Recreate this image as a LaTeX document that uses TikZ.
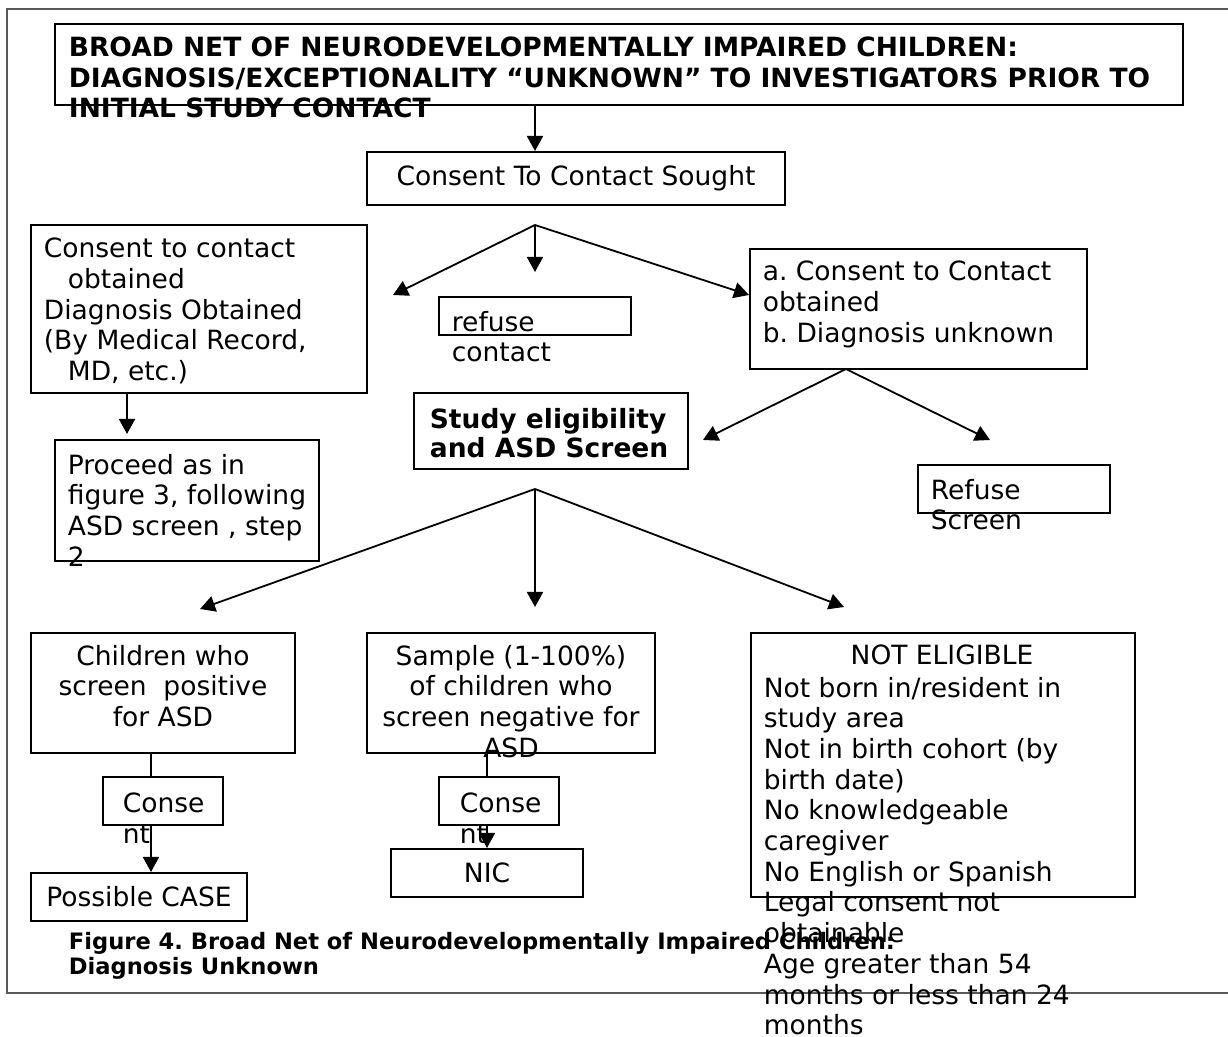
\documentclass[tikz,border=0pt]{standalone}
\usepackage{fontspec}
\setmainfont{DejaVu Sans}
\usepackage{tikz}
\usetikzlibrary{arrows.meta}
\frenchspacing
\tikzstyle{box} = [rectangle, draw, line width=1pt, inner sep=0pt]
\tikzstyle{txt} = [align=left, anchor=north west, inner sep=0pt]
\tikzstyle{ctxt} = [align=center, anchor=north, inner sep=0pt]
\tikzstyle{frame} = [-, draw=black!65, line width=1pt]

\begin{document}
\begin{tikzpicture}[->,>={Triangle[width=8pt,length=7.5pt]},x=0.5pt,y=-0.5pt,line width=0.9pt,
    font=\fontsize{13.25}{15.4}\selectfont]
  \useasboundingbox (0,0) rectangle (1228,1037);
  \draw[frame] (1228,9) -- (7,9) -- (7,993) -- (1228,993);

  % top of the chart
  \node[box, minimum width=564pt, minimum height=40.5pt] (Broad_Net) at (619,64.5) {};
  \node[txt, font=\fontsize{13.25}{15.3}\selectfont\bfseries] (Broad_Net_T) at (68,36)
    {BROAD NET OF NEURODEVELOPMENTALLY IMPAIRED CHILDREN:\\
     DIAGNOSIS/EXCEPTIONALITY “UNKNOWN” TO INVESTIGATORS PRIOR TO\\
     INITIAL STUDY CONTACT};
  \node[box, minimum width=209pt, minimum height=26.5pt] (Consent_Sought) at (576,178.5) {Consent To Contact Sought};

  % second row
  \node[box, minimum width=168pt, minimum height=84pt] (Dx_Known) at (199,309) {};
  \node[txt] (Dx_Known_T) at (43,237)
    {Consent to contact\\ \hspace*{12pt}obtained\\ Diagnosis Obtained\\ (By Medical Record,\\ \hspace*{12pt}MD, etc.)};
  \node[box, minimum width=96pt, minimum height=19pt] (Refuse_C) at (535,316) {};
  \node[txt] (Refuse_C_T) at (451,310) {refuse\\contact};
  \node[box, minimum width=168.5pt, minimum height=60pt] (Dx_Unknown) at (918.5,309) {};
  \node[txt] (Dx_Unknown_T) at (762,260)
    {a. Consent to Contact\\obtained\\b. Diagnosis unknown};

  % third row
  \node[box, minimum width=132pt, minimum height=60.5pt] (Proceed) at (187,500.5) {};
  \node[txt] (Proceed_T) at (67,453)
    {Proceed as in\\figure 3, following\\ASD screen , step\\2};
  \node[box, minimum width=137pt, minimum height=38pt] (Screen) at (551,431) {};
  \node[txt, font=\fontsize{13.25}{14.8}\selectfont\bfseries] (Screen_T) at (429,407)
    {Study eligibility\\and ASD Screen};
  \node[box, minimum width=96pt, minimum height=24pt] (Refuse_S) at (1014,489) {};
  \node[txt] (Refuse_S_T) at (930,478) {Refuse\\Screen};

  % bottom row
  \node[box, minimum width=132pt, minimum height=60pt] (Pos) at (163,693) {};
  \node[ctxt] (Pos_T) at (163,644) {Children who\\screen\ \ positive\\for ASD};
  \node[box, minimum width=144pt, minimum height=60pt] (Neg) at (511,693) {};
  \node[ctxt] (Neg_T) at (511,644) {Sample (1-100\%)\\of children who\\screen negative for\\ASD};
  \node[box, minimum width=192pt, minimum height=132pt] (Not_Elig) at (943,765) {};
  \node[ctxt] (Not_Elig_H) at (942,644) {NOT ELIGIBLE};
  \node[txt, font=\fontsize{13.25}{15.35}\selectfont] (Not_Elig_T) at (763,676)
    {Not born in/resident in\\study area\\Not in birth cohort (by\\birth date)\\No knowledgeable\\caregiver\\
     No English or Spanish\\Legal consent not\\obtainable\\Age greater than 54\\months or less than 24\\months};

  \node[box, minimum width=60pt, minimum height=24pt] (Cons_P) at (163,801) {};
  \node[txt] (Cons_P_T) at (122,792) {Conse\\nt};
  \node[box, minimum width=60pt, minimum height=24pt] (Cons_N) at (499,801) {};
  \node[txt] (Cons_N_T) at (459,792) {Conse\\nt};
  \node[box, minimum width=108pt, minimum height=24pt] (Case) at (139,897) {Possible CASE};
  \node[box, minimum width=96pt, minimum height=24pt] (NIC) at (487,873) {NIC};

  \node[txt, font=\fontsize{11.3}{12.6}\selectfont\bfseries] (Caption) at (68,931)
    {Figure 4. Broad Net of Neurodevelopmentally Impaired Children:\\Diagnosis Unknown};

  % forks and loose arrow ends
  \coordinate (Fork_A) at (535,225);
  \coordinate (Tip_A1) at (393,295);
  \coordinate (Tip_A2) at (535,272);
  \coordinate (Fork_B) at (846,369);
  \coordinate (Tip_B1) at (703,440);
  \coordinate (Tip_B2) at (990,440);
  \coordinate (Fork_C) at (535,489);
  \coordinate (Tip_C1) at (200,609);
  \coordinate (Tip_C2) at (535,607);
  \coordinate (Tip_C3) at (844,607);
  \coordinate (Col_K) at (127,0);
  \coordinate (Col_P) at (151,0);
  \coordinate (Col_N) at (487,0);

  \path (Broad_Net.south -| Fork_A) edge (Consent_Sought.north -| Fork_A);
  \path (Fork_A) edge (Tip_A1);
  \path (Fork_A) edge (Tip_A2);
  \path (Fork_A) edge (Dx_Unknown.west |- Tip_A1);
  \path (Dx_Known.south -| Col_K) edge ([yshift=2.5pt]Proceed.north -| Col_K);
  \path (Fork_B) edge (Tip_B1);
  \path (Fork_B) edge (Tip_B2);
  \path (Fork_C) edge (Tip_C1);
  \path (Fork_C) edge (Tip_C2);
  \path (Fork_C) edge (Tip_C3);
  \path (Pos.south -| Col_P) edge[-] (Cons_P.north -| Col_P);
  \path (Cons_P.south -| Col_P) edge (Case.north -| Col_P);
  \path (Neg.south -| Col_N) edge[-] (Cons_N.north -| Col_N);
  \path (Cons_N.south -| Col_N) edge (NIC.north -| Col_N);
\end{tikzpicture}
\end{document}
